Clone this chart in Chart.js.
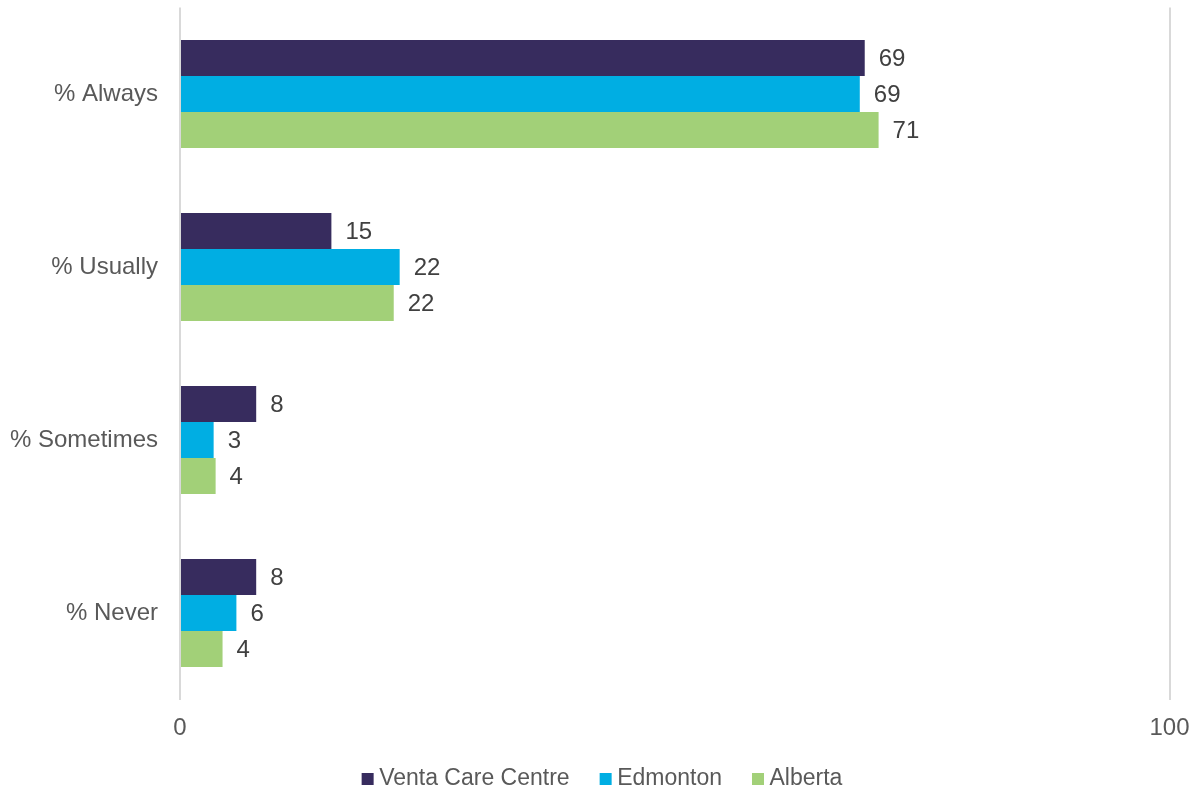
<!DOCTYPE html>
<html>
<head>
<meta charset="utf-8">
<script src="https://cdn.jsdelivr.net/npm/chart.js@4.4.0/dist/chart.umd.min.js"></script>
<style>
  html, body { margin: 0; padding: 0; background: #ffffff; }
  #wrap { width: 1197px; height: 794px; position: relative; }
</style>
</head>
<body>
<div id="wrap"><canvas id="c"></canvas></div>
<script>
const categories = ['% Always', '% Usually', '% Sometimes', '% Never'];
const seriesNames = ['Venta Care Centre', 'Edmonton', 'Alberta'];
const ventaValues = [69.2, 15.3, 7.7, 7.7];
const edmontonValues = [68.7, 22.2, 3.4, 5.7];
const albertaValues = [70.6, 21.6, 3.6, 4.3];
const xTickValues = [0, 100];

const colors = ['#372C5E', '#00AEE3', '#A2D078'];
const FONT = '"Liberation Sans", Arial, sans-serif';

const dataLabelPlugin = {
  id: 'dataLabels',
  afterDatasetsDraw(chart) {
    const ctx = chart.ctx;
    ctx.save();
    ctx.font = '24px ' + FONT;
    ctx.fillStyle = '#404040';
    ctx.textAlign = 'left';
    ctx.textBaseline = 'middle';
    chart.data.datasets.forEach((ds, di) => {
      const meta = chart.getDatasetMeta(di);
      meta.data.forEach((bar, i) => {
        ctx.fillText(String(Math.round(ds.data[i])), bar.x + 14, bar.y + 1);
      });
    });
    ctx.restore();
  }
};

// Legend drawn from the datasets (label + colour), Office-style spacing
const legendPlugin = {
  id: 'officeLegend',
  afterDraw(chart) {
    const ctx = chart.ctx;
    ctx.save();
    ctx.font = '23px ' + FONT;
    const box = 12, textGap = 5.5, itemGap = 30;
    const items = chart.data.datasets.map(ds => ({ text: ds.label, color: ds.backgroundColor, w: ctx.measureText(ds.label).width }));
    const total = items.reduce((s, it) => s + box + textGap + it.w, 0) + itemGap * (items.length - 1);
    let x = 602 - total / 2;
    const cy = 779;
    ctx.textBaseline = 'middle';
    ctx.textAlign = 'left';
    items.forEach(it => {
      ctx.fillStyle = it.color;
      ctx.fillRect(x, cy - box / 2, box, box);
      x += box + textGap;
      ctx.fillStyle = '#595959';
      ctx.fillText(it.text, x, cy);
      x += it.w + itemGap;
    });
    ctx.restore();
  }
};

new Chart(document.getElementById('c'), {
  type: 'bar',
  data: {
    labels: categories,
    datasets: [
      { label: seriesNames[0], data: ventaValues, backgroundColor: colors[0] },
      { label: seriesNames[1], data: edmontonValues, backgroundColor: colors[1] },
      { label: seriesNames[2], data: albertaValues, backgroundColor: colors[2] }
    ]
  },
  options: {
    indexAxis: 'y',
    responsive: true,
    maintainAspectRatio: false,
    animation: false,
    devicePixelRatio: 1,
    layout: { padding: { top: 7.5, right: 27.5, left: 0, bottom: 0 } },
    datasets: { bar: { categoryPercentage: 0.624, barPercentage: 1.0 } },
    scales: {
      x: {
        min: 0, max: 100,
        afterBuildTicks(scale) { scale.ticks = xTickValues.map(v => ({ value: v })); },
        afterFit(scale) {
          scale.height = 94.5;
          scale.paddingLeft = 0; scale.paddingRight = 0;
          scale.paddingTop = 0; scale.paddingBottom = 0;
        },
        grid: { color: '#D9D9D9', lineWidth: 2, drawTicks: false },
        border: { display: false },
        ticks: { padding: 14, color: '#595959', font: { family: FONT, size: 24 }, maxRotation: 0 }
      },
      y: {
        afterFit(scale) {
          scale.width = 180;
          scale.paddingLeft = 0; scale.paddingRight = 0;
          scale.paddingTop = 0; scale.paddingBottom = 0;
        },
        grid: { display: false, drawTicks: false },
        border: { display: false },
        ticks: { padding: 22, color: '#595959', font: { family: FONT, size: 24 } }
      }
    },
    plugins: {
      legend: { display: false },
      tooltip: { enabled: false }
    }
  },
  plugins: [dataLabelPlugin, legendPlugin]
});
</script>
</body>
</html>
